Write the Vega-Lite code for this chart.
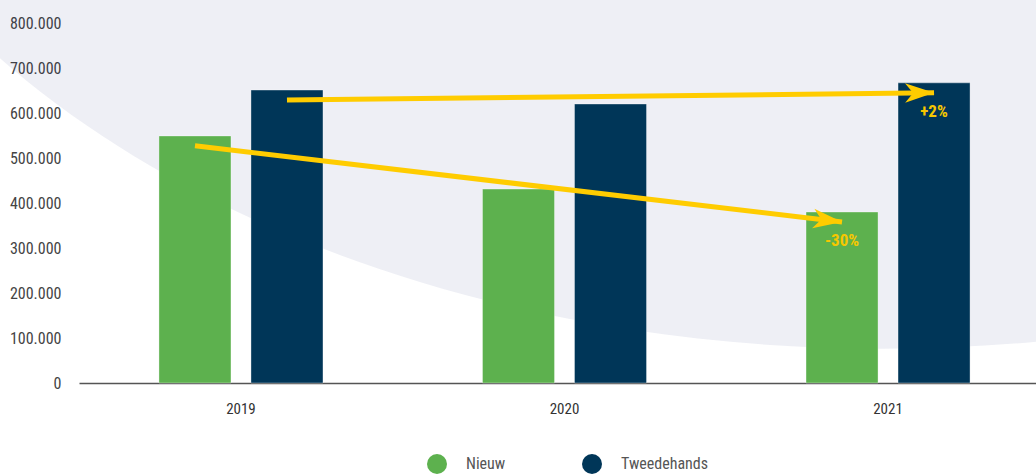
{
  "$schema": "https://vega.github.io/schema/vega-lite/v6.json",
  "width": 957,
  "height": 360,
  "autosize": {"type": "none"},
  "padding": {"left": 79, "top": 23, "right": 0, "bottom": 92},
  "config": {
    "view": {"stroke": null},
    "font": "'Liberation Sans Narrow', 'Roboto Condensed', 'DejaVu Sans Condensed', 'Open Sans Condensed', sans-serif",
    "locale": {"number": {"decimal": ",", "thousands": ".", "grouping": [3], "currency": ["€", ""]}}
  },
  "datasets": {
    "sales": [
      {"year": "2019", "type": "Nieuw", "value": 549000},
      {"year": "2019", "type": "Tweedehands", "value": 651000},
      {"year": "2020", "type": "Nieuw", "value": 431000},
      {"year": "2020", "type": "Tweedehands", "value": 620000},
      {"year": "2021", "type": "Nieuw", "value": 380000},
      {"year": "2021", "type": "Tweedehands", "value": 667000}
    ],
    "arrows": [
      {"year": "2019", "type": "Nieuw", "value": 527000, "label": ""},
      {"year": "2021", "type": "Nieuw", "value": 358000, "label": "-30%"},
      {"year": "2019", "type": "Tweedehands", "value": 629000, "label": ""},
      {"year": "2021", "type": "Tweedehands", "value": 645000, "label": "+2%"}
    ]
  },
  "layer": [
    {
      "data": {"values": [{}]},
      "mark": {
        "type": "point",
        "shape": "M -1 0 A 1 0.6545 0 1 0 1 0 A 1 0.6545 0 1 0 -1 0 Z",
        "size": 4840000,
        "filled": true,
        "fill": "#0c1a70",
        "fillOpacity": 0.07,
        "opacity": 1,
        "strokeWidth": 0
      },
      "encoding": {
        "x": {"datum": 0.84, "type": "quantitative", "scale": {"domain": [0, 1], "nice": false, "zero": false}, "axis": null},
        "y": {"datum": 2.095, "type": "quantitative", "scale": {"domain": [0, 1], "nice": false, "zero": false}, "axis": null}
      }
    },
    {
      "layer": [
        {
          "data": {"name": "sales"},
          "mark": {"type": "bar", "stroke": "#ffffff", "strokeOpacity": 0.35, "strokeWidth": 1},
          "encoding": {
            "x": {
              "field": "year", "type": "nominal",
              "scale": {"paddingInner": 0.042, "paddingOuter": 0, "align": 0},
              "axis": {"title": null, "labelAngle": 0, "ticks": false, "labelOffset": 7, "domainColor": "#555555", "domainWidth": 1.5, "labelFontSize": 15, "labelColor": "#333333", "labelPadding": 18}
            },
            "xOffset": {"field": "type", "type": "nominal", "scale": {"paddingInner": 0.2174, "paddingOuter": 0.793, "align": 0.548}},
            "y": {
              "field": "value", "type": "quantitative",
              "scale": {"domain": [0, 800000], "nice": false},
              "axis": {"title": null, "values": [0, 100000, 200000, 300000, 400000, 500000, 600000, 700000, 800000], "format": ",d", "ticks": false, "domain": false, "labelFontSize": 16, "labelColor": "#444444", "labelPadding": 18, "gridColor": "#b0b0b0", "gridWidth": 1.5}
            },
            "color": {
              "field": "type", "type": "nominal",
              "scale": {"domain": ["Nieuw", "Tweedehands"], "range": ["#5db14e", "#003658"]},
              "legend": {"title": null, "orient": "none", "legendX": 348, "legendY": 431, "direction": "horizontal", "symbolType": "circle", "symbolSize": 400, "symbolStrokeWidth": 0, "symbolOpacity": 1, "labelFontSize": 16, "labelColor": "#555555", "labelOffset": 19, "columnPadding": 76}
            }
          }
        },
        {
          "data": {"name": "arrows"},
          "mark": {"type": "line", "color": "#ffcc00", "strokeWidth": 5},
          "encoding": {
            "x": {"field": "year", "type": "nominal"},
            "xOffset": {"field": "type", "type": "nominal"},
            "y": {"field": "value", "type": "quantitative"},
            "detail": {"field": "type", "type": "nominal"}
          }
        },
        {
          "data": {"name": "arrows"},
          "transform": [{"filter": "datum.year == '2021' && datum.type == 'Nieuw'"}],
          "mark": {"type": "point", "shape": "M 0 0 L -1 -0.34 L -0.72 0 L -1 0.34 Z", "size": 3364, "filled": true, "fill": "#ffcc00", "opacity": 1, "strokeWidth": 0, "angle": 6.7},
          "encoding": {
            "x": {"field": "year", "type": "nominal"},
            "xOffset": {"field": "type", "type": "nominal"},
            "y": {"field": "value", "type": "quantitative"}
          }
        },
        {
          "data": {"name": "arrows"},
          "transform": [{"filter": "datum.year == '2021' && datum.type == 'Tweedehands'"}],
          "mark": {"type": "point", "shape": "M 0 0 L -1 -0.34 L -0.72 0 L -1 0.34 Z", "size": 3364, "filled": true, "fill": "#ffcc00", "opacity": 1, "strokeWidth": 0, "angle": -0.5},
          "encoding": {
            "x": {"field": "year", "type": "nominal"},
            "xOffset": {"field": "type", "type": "nominal"},
            "y": {"field": "value", "type": "quantitative"}
          }
        },
        {
          "data": {"name": "arrows"},
          "transform": [{"filter": "datum.label != ''"}],
          "mark": {"type": "text", "dy": 19, "fontWeight": "bold", "fontSize": 17, "color": "#f6c700"},
          "encoding": {
            "x": {"field": "year", "type": "nominal"},
            "xOffset": {"field": "type", "type": "nominal"},
            "y": {"field": "value", "type": "quantitative"},
            "text": {"field": "label", "type": "nominal"}
          }
        }
      ]
    }
  ],
  "resolve": {"scale": {"x": "independent", "y": "independent"}}
}
